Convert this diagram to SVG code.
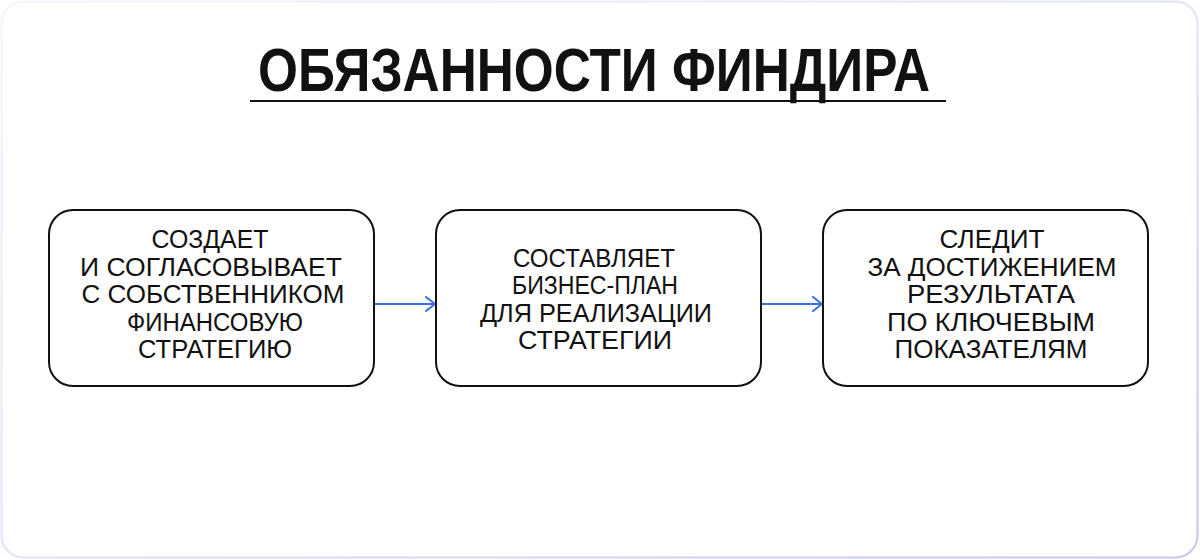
<svg xmlns="http://www.w3.org/2000/svg" width="1200" height="560" viewBox="0 0 1200 560">
  <defs>
    <linearGradient id="frameGrad" x1="0" y1="0" x2="1" y2="1">
      <stop offset="0" stop-color="#f4f4fc"/>
      <stop offset="0.5" stop-color="#e2e2f8"/>
      <stop offset="1" stop-color="#c4c4f2"/>
    </linearGradient>
    <marker id="arrow" viewBox="0 0 12 16" refX="11" refY="8" markerWidth="12" markerHeight="16" markerUnits="userSpaceOnUse" orient="auto">
      <path d="M2,1 L11,8 L2,15" fill="none" stroke="#3a6fe0" stroke-width="2" stroke-linecap="round" stroke-linejoin="round"/>
    </marker>
    <style>
      .box { fill: #ffffff; stroke: #111111; stroke-width: 2; }
      .lbl { font-family: "Liberation Sans", "DejaVu Sans", sans-serif; font-size: 25px; fill: #111111; text-anchor: middle; }
      .title { font-family: "Liberation Sans", "DejaVu Sans", sans-serif; font-size: 62px; font-weight: bold; fill: #111111; text-anchor: middle; }
      .conn { stroke: #3a6fe0; stroke-width: 2; fill: none; }
    </style>
  </defs>

  <rect x="1.5" y="1.5" width="1196" height="556" rx="22" ry="22" fill="#ffffff" stroke="url(#frameGrad)" stroke-width="2"/>

  <g id="title">
    <text class="title" x="594" y="91" textLength="672" lengthAdjust="spacingAndGlyphs">ОБЯЗАННОСТИ ФИНДИРА</text>
    <line x1="250" y1="101" x2="946" y2="101" stroke="#111111" stroke-width="2"/>
  </g>

  <g id="connectors">
    <line class="conn" x1="375" y1="304" x2="435" y2="304" marker-end="url(#arrow)"/>
    <line class="conn" x1="762" y1="304" x2="822" y2="304" marker-end="url(#arrow)"/>
  </g>

  <g id="node1">
    <rect class="box" x="49" y="210" width="325" height="176" rx="24" ry="24"/>
    <text class="lbl" x="210" y="248" textLength="117" lengthAdjust="spacingAndGlyphs">СОЗДАЕТ</text>
    <text class="lbl" x="211" y="276" textLength="262" lengthAdjust="spacingAndGlyphs">И СОГЛАСОВЫВАЕТ</text>
    <text class="lbl" x="213" y="303" textLength="263" lengthAdjust="spacingAndGlyphs">С СОБСТВЕННИКОМ</text>
    <text class="lbl" x="215" y="331" textLength="176" lengthAdjust="spacingAndGlyphs">ФИНАНСОВУЮ</text>
    <text class="lbl" x="215" y="358" textLength="154" lengthAdjust="spacingAndGlyphs">СТРАТЕГИЮ</text>
  </g>

  <g id="node2">
    <rect class="box" x="436" y="210" width="325" height="176" rx="24" ry="24"/>
    <text class="lbl" x="594" y="267" textLength="162" lengthAdjust="spacingAndGlyphs">СОСТАВЛЯЕТ</text>
    <text class="lbl" x="595" y="294" textLength="166" lengthAdjust="spacingAndGlyphs">БИЗНЕС-ПЛАН</text>
    <text class="lbl" x="596" y="322" textLength="232" lengthAdjust="spacingAndGlyphs">ДЛЯ РЕАЛИЗАЦИИ</text>
    <text class="lbl" x="595" y="349" textLength="154" lengthAdjust="spacingAndGlyphs">СТРАТЕГИИ</text>
  </g>

  <g id="node3">
    <rect class="box" x="823" y="210" width="325" height="176" rx="24" ry="24"/>
    <text class="lbl" x="992" y="248" textLength="105" lengthAdjust="spacingAndGlyphs">СЛЕДИТ</text>
    <text class="lbl" x="992" y="276" textLength="249" lengthAdjust="spacingAndGlyphs">ЗА ДОСТИЖЕНИЕМ</text>
    <text class="lbl" x="991" y="303" textLength="168" lengthAdjust="spacingAndGlyphs">РЕЗУЛЬТАТА</text>
    <text class="lbl" x="991" y="331" textLength="208" lengthAdjust="spacingAndGlyphs">ПО КЛЮЧЕВЫМ</text>
    <text class="lbl" x="991" y="358" textLength="193" lengthAdjust="spacingAndGlyphs">ПОКАЗАТЕЛЯМ</text>
  </g>
</svg>
